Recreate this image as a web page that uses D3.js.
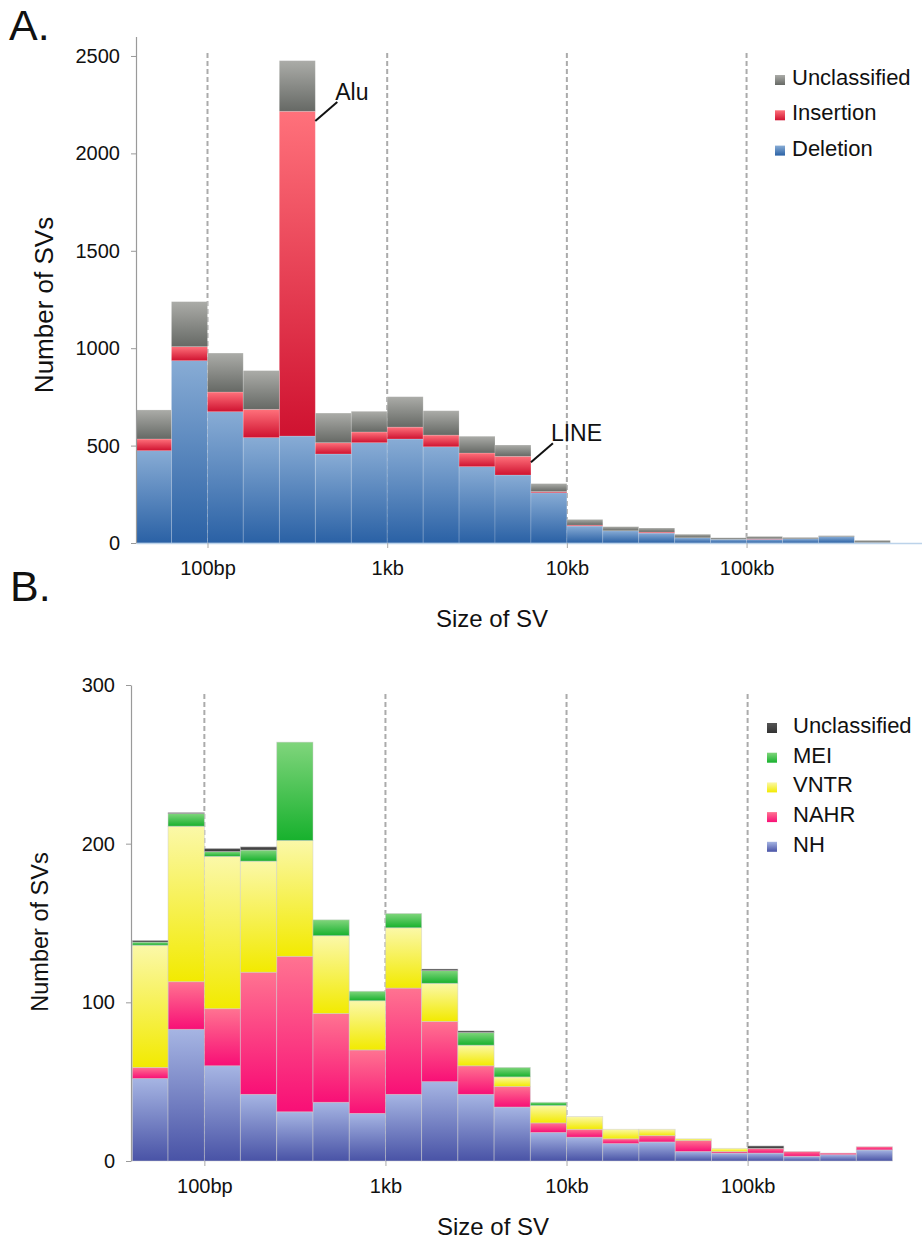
<!DOCTYPE html>
<html>
<head>
<meta charset="utf-8">
<script src="https://cdn.jsdelivr.net/npm/d3@7"></script>
<style>
  html, body { margin: 0; padding: 0; background: #fff; }
  svg { display: block; font-family: "Liberation Sans", Arial, Helvetica, sans-serif; }
</style>
</head>
<body>
<svg id="chart" width="922" height="1241"></svg>
<script>
// ---------- DATA ----------
// SV size bin edges (bp), 5 bins per decade
const binEdges = [40, 63, 100, 158, 251, 398, 631, 1000, 1585, 2512, 3981, 6310,
  10000, 15849, 25119, 39811, 63096, 100000, 158489, 251189, 398107, 630957];
const xTickValues = [100, 1000, 10000, 100000];
const xTickLabels = ["100bp", "1kb", "10kb", "100kb"];

// Panel A (stack order bottom -> top)
const seriesA = ["Deletion", "Insertion", "Unclassified"];
const deletion   = [474, 936, 674, 541, 549, 457, 515, 534, 494, 392, 349, 258, 87, 63, 51, 27, 19, 19, 22, 33, 2];
const insertion  = [60, 72, 101, 145, 1667, 58, 55, 61, 60, 70, 96, 6, 5, 0, 5, 0, 0, 3, 0, 0, 0];
const unclassA   = [149, 231, 200, 199, 260, 152, 106, 156, 125, 86, 58, 41, 29, 21, 21, 18, 8, 12, 7, 5, 12];
const yTicksA = [0, 500, 1000, 1500, 2000, 2500];
const annotationsA = [
  { label: "Alu", bin: 4, value: 2166 },
  { label: "LINE", bin: 10, value: 415 }
];

// Panel B (stack order bottom -> top)
const seriesB = ["NH", "NAHR", "VNTR", "MEI", "Unclassified"];
const nh       = [52, 83, 60, 42, 31, 37, 30, 42, 50, 42, 34, 18, 15, 11, 12, 6, 5, 5, 3, 4, 7];
const nahr     = [7, 30, 36, 77, 98, 56, 40, 67, 38, 18, 13, 6, 5, 3, 4, 7, 1, 3, 3, 1, 2];
const vntr     = [77, 98, 96, 70, 73, 49, 31, 38, 24, 13, 6, 11, 8, 6, 4, 1, 2, 0, 0, 0, 0];
const mei      = [2, 8, 3, 7, 62, 10, 6, 9, 8, 8, 6, 2, 0, 0, 0, 0, 0, 0, 0, 0, 0];
const unclassB = [1, 0.6, 2, 2, 0, 0, 0, 0, 1, 1, 0, 0, 0, 0, 0, 0, 0, 1.5, 0, 0, 0];
const yTicksB = [0, 100, 200, 300];

// ---------- STYLE ----------
const gradA = {
  "Deletion":     ["#88acd5", "#2a61a5"],
  "Insertion":    ["#ff717b", "#cf1230"],
  "Unclassified": ["#abaca8", "#666965"]
};
const gradB = {
  "NH":           ["#a6b5e3", "#4953a6"],
  "NAHR":         ["#ff7391", "#f80f76"],
  "VNTR":         ["#fbf8a8", "#f2ea00"],
  "MEI":          ["#80d57c", "#17b12d"],
  "Unclassified": ["#555555", "#333333"]
};
const FONT_TICK = 20;

const svg = d3.select("#chart");
const defs = svg.append("defs");
function addGrad(id, c) {
  const g = defs.append("linearGradient").attr("id", id)
    .attr("x1", 0).attr("y1", 0).attr("x2", 0).attr("y2", 1);
  g.append("stop").attr("offset", "0%").attr("stop-color", c[0]);
  g.append("stop").attr("offset", "100%").attr("stop-color", c[1]);
}
Object.entries(gradA).forEach(([k, c]) => addGrad("gA-" + k, c));
Object.entries(gradB).forEach(([k, c]) => addGrad("gB-" + k, c));

function buildPanel(cfg) {
  const g = svg.append("g");
  const x = d3.scaleLog().domain([binEdges[0], 1e6]).range([cfg.x0, cfg.x0 + 4.4 * cfg.decade]);
  const y = d3.scaleLinear().domain([0, cfg.yMax]).range([cfg.y0, cfg.yTop]);

  // dashed decade lines
  g.append("g").selectAll("line").data(xTickValues).join("line")
    .attr("x1", d => x(d)).attr("x2", d => x(d))
    .attr("y1", cfg.dashTop).attr("y2", cfg.y0)
    .attr("stroke", "#ababab").attr("stroke-width", 2)
    .attr("stroke-dasharray", "5,3");

  // stacked bars
  const rows = cfg.arrays[0].map((_, i) => {
    const o = { i };
    cfg.series.forEach((s, k) => o[s] = cfg.arrays[k][i]);
    return o;
  });
  const stacked = d3.stack().keys(cfg.series)(rows);
  g.append("g").selectAll("g").data(stacked).join("g")
    .attr("fill", d => `url(#${cfg.prefix}-${d.key})`)
    .selectAll("rect").data(d => d.filter(p => p[1] - p[0] > 0)).join("rect")
    .attr("x", d => x(binEdges[d.data.i]))
    .attr("width", d => x(binEdges[d.data.i + 1]) - x(binEdges[d.data.i]))
    .attr("y", d => y(d[1]))
    .attr("height", d => y(d[0]) - y(d[1]))
    .attr("stroke", cfg.barStroke).attr("stroke-width", 0.8);

  // y axis
  const yAxis = g.append("g").attr("transform", `translate(${cfg.axisX},0)`)
    .call(d3.axisLeft(y).tickValues(cfg.yTicks).tickFormat(d3.format("d"))
      .tickSize(5).tickSizeOuter(0).tickPadding(11));
  yAxis.select(".domain").attr("stroke", "#9a9a9a").attr("stroke-width", 1.2);
  yAxis.selectAll(".tick line").attr("stroke", "#9a9a9a");
  yAxis.selectAll("text").attr("font-size", FONT_TICK).attr("fill", "#111")
    .attr("font-family", "Liberation Sans, Arial, sans-serif");

  // x axis
  const xAxis = g.append("g").attr("transform", `translate(0,${cfg.y0})`)
    .call(d3.axisBottom(x).tickValues(xTickValues)
      .tickFormat((d, i) => xTickLabels[i]).tickSize(5).tickSizeOuter(0).tickPadding(13));
  xAxis.select(".domain").attr("stroke", cfg.xDomainColor).attr("stroke-width", 1.5);
  xAxis.selectAll(".tick line").attr("stroke", "#aaa");
  xAxis.selectAll("text").attr("font-size", FONT_TICK).attr("fill", "#111")
    .attr("font-family", "Liberation Sans, Arial, sans-serif");

  // axis titles
  g.append("text").attr("x", cfg.xTitle[0]).attr("y", cfg.xTitle[1])
    .attr("text-anchor", "middle").attr("font-size", 24).attr("fill", "#111")
    .text("Size of SV");
  g.append("text")
    .attr("transform", `translate(${cfg.yTitle[0]},${cfg.yTitle[1]}) rotate(-90)`)
    .attr("text-anchor", "middle").attr("font-size", cfg.yTitleSize).attr("fill", "#111")
    .text("Number of SVs");

  // panel letter
  g.append("text").attr("x", cfg.letterPos[0]).attr("y", cfg.letterPos[1])
    .attr("font-size", 43).attr("fill", "#111").text(cfg.letter);

  // legend (top of stack first)
  const leg = g.append("g");
  const legItems = cfg.series.slice().reverse();
  legItems.forEach((s, i) => {
    const by = cfg.legend.y + i * cfg.legend.dy;
    leg.append("rect").attr("x", cfg.legend.x).attr("y", by - 10)
      .attr("width", 10).attr("height", 10)
      .attr("fill", `url(#${cfg.prefix}-${s})`);
    leg.append("text").attr("x", cfg.legend.x + cfg.legend.tx).attr("y", by)
      .attr("font-size", 22).attr("fill", "#111").text(s);
  });
  return { x, y, g };
}

// Panel A
const A = buildPanel({
  prefix: "gA", series: seriesA, arrays: [deletion, insertion, unclassA],
  x0: 136, decade: 179.6, y0: 543, yTop: 36.5, yMax: 2600, yTicks: yTicksA,
  axisX: 136, dashTop: 53, barStroke: "rgba(255,255,255,0.22)", xDomainColor: "#bcd3ea",
  xTitle: [492, 627], yTitle: [53, 305], yTitleSize: 26,
  letter: "A.", letterPos: [9, 40],
  legend: { x: 775, y: 85, dy: 35.3, tx: 17 }
});

// annotations for panel A
annotationsA.forEach(a => {
  const ex = A.x(binEdges[a.bin + 1]);
  const ey = A.y(a.value);
  A.g.append("line").attr("x1", ex).attr("y1", ey).attr("x2", ex + 22).attr("y2", ey - 19)
    .attr("stroke", "#111").attr("stroke-width", 2);
  A.g.append("text").attr("x", ex + 20).attr("y", ey - 21)
    .attr("font-size", 23).attr("fill", "#111").text(a.label);
});

// Panel B
buildPanel({
  prefix: "gB", series: seriesB, arrays: [nh, nahr, vntr, mei, unclassB],
  x0: 132.3, decade: 181, y0: 1161, yTop: 685, yMax: 300, yTicks: yTicksB,
  axisX: 131, dashTop: 694, barStroke: "rgba(205,205,205,0.6)", xDomainColor: "none",
  xTitle: [493, 1235], yTitle: [48, 932], yTitleSize: 23.5,
  letter: "B.", letterPos: [10, 601],
  legend: { x: 767, y: 733, dy: 29.7, tx: 26 }
});
</script>
</body>
</html>
